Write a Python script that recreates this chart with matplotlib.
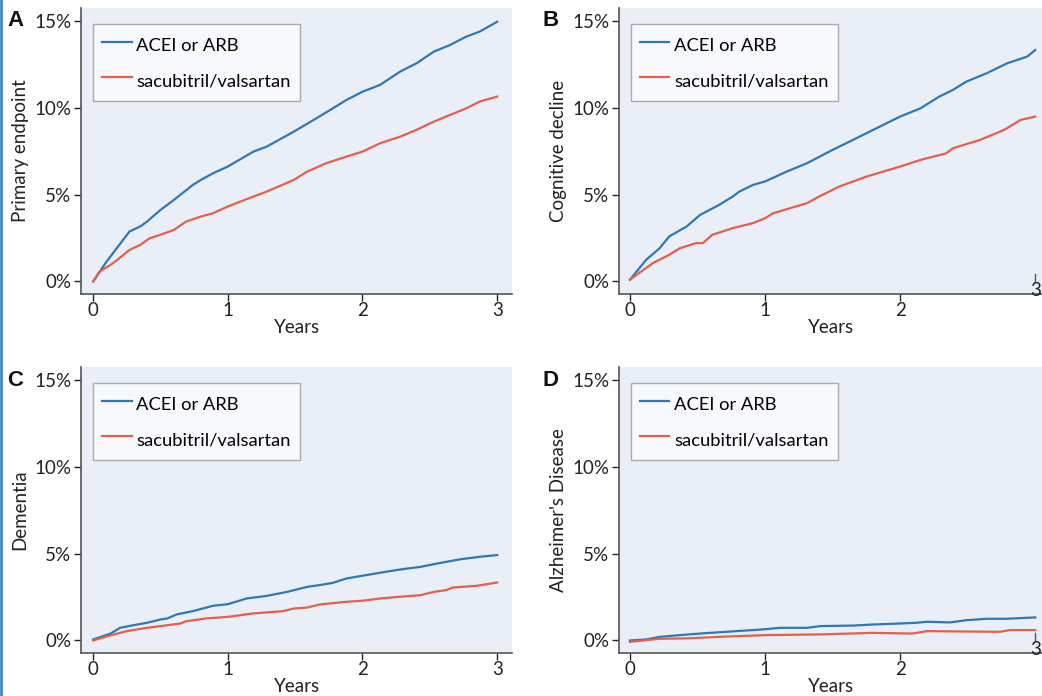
import matplotlib.pyplot as plt
from matplotlib.lines import Line2D

plt.rcParams['font.family'] = ['Lato', 'DejaVu Sans']

# series labels and axis texts
series_names = ["ACEI or ARB", "sacubitril/valsartan"]
panel_letters = ["A", "B", "C", "D"]
y_labels = ["Primary endpoint", "Cognitive decline", "Dementia", "Alzheimer's Disease"]
y_ticks = [0, 5, 10, 15]
y_tick_labels = ["0%", "5%", "10%", "15%"]

# A - primary endpoint
a_blue_x = [0, 0.1, 0.27, 0.35, 0.4, 0.5, 0.6, 0.74, 0.8, 0.89, 1.0, 1.19, 1.29, 1.49, 1.68,
            1.88, 2.0, 2.13, 2.28, 2.4, 2.53, 2.65, 2.77, 2.87, 3.0]
a_blue_y = [0, 1.15, 2.88, 3.17, 3.45, 4.12, 4.7, 5.56, 5.85, 6.23, 6.62, 7.48, 7.77, 8.63, 9.5,
            10.45, 10.93, 11.32, 12.09, 12.56, 13.24, 13.62, 14.1, 14.39, 14.96]
a_red_x = [0, 0.05, 0.13, 0.18, 0.27, 0.35, 0.42, 0.5, 0.6, 0.69, 0.8, 0.89, 1.0, 1.19, 1.29,
           1.49, 1.59, 1.73, 1.88, 2.0, 2.13, 2.28, 2.4, 2.53, 2.65, 2.77, 2.87, 3.0]
a_red_y = [0, 0.58, 0.96, 1.25, 1.82, 2.11, 2.49, 2.69, 2.97, 3.45, 3.74, 3.93, 4.32, 4.89, 5.18,
           5.85, 6.33, 6.81, 7.19, 7.48, 7.96, 8.34, 8.73, 9.21, 9.59, 9.97, 10.36, 10.65]

# B - cognitive decline
b_blue_x = [0, 0.12, 0.22, 0.29, 0.42, 0.52, 0.66, 0.76, 0.81, 0.91, 1.0, 1.16, 1.31, 1.5, 1.65,
            1.8, 2.0, 2.15, 2.29, 2.39, 2.49, 2.64, 2.79, 2.94, 3.0]
b_blue_y = [0.1, 1.25, 1.92, 2.59, 3.17, 3.84, 4.41, 4.89, 5.18, 5.56, 5.76, 6.33, 6.81, 7.58, 8.15,
            8.73, 9.5, 9.97, 10.65, 11.03, 11.51, 11.99, 12.56, 12.95, 13.33]
b_red_x = [0, 0.1, 0.17, 0.29, 0.37, 0.49, 0.54, 0.61, 0.76, 0.91, 1.0, 1.06, 1.31, 1.4, 1.55,
           1.75, 2.0, 2.15, 2.34, 2.39, 2.59, 2.74, 2.79, 2.89, 3.0]
b_red_y = [0.1, 0.67, 1.06, 1.53, 1.92, 2.21, 2.21, 2.69, 3.07, 3.36, 3.64, 3.93, 4.51, 4.89, 5.47,
           6.04, 6.62, 7.0, 7.38, 7.67, 8.15, 8.63, 8.82, 9.3, 9.5]

# C - dementia
c_blue_x = [0, 0.13, 0.2, 0.3, 0.4, 0.5, 0.55, 0.62, 0.74, 0.89, 1.0, 1.14, 1.29, 1.44, 1.59,
            1.68, 1.78, 1.88, 2.0, 2.13, 2.28, 2.43, 2.58, 2.72, 2.87, 3.0]
c_blue_y = [0.06, 0.4, 0.73, 0.88, 1.02, 1.21, 1.27, 1.5, 1.69, 2.0, 2.09, 2.42, 2.57, 2.8, 3.09,
            3.19, 3.32, 3.57, 3.73, 3.9, 4.09, 4.24, 4.47, 4.67, 4.82, 4.92]
c_red_x = [0, 0.13, 0.25, 0.4, 0.55, 0.65, 0.69, 0.84, 1.0, 1.19, 1.41, 1.49, 1.59, 1.68, 1.88,
           2.0, 2.13, 2.28, 2.43, 2.53, 2.62, 2.67, 2.85, 3.0]
c_red_y = [0, 0.3, 0.54, 0.73, 0.88, 0.98, 1.11, 1.27, 1.36, 1.56, 1.69, 1.84, 1.9, 2.07, 2.23,
           2.29, 2.42, 2.52, 2.61, 2.8, 2.9, 3.05, 3.15, 3.34]

# D - Alzheimer's disease
d_blue_x = [0, 0.12, 0.22, 0.37, 0.52, 0.71, 0.91, 1.0, 1.11, 1.31, 1.41, 1.65, 1.8, 2.0, 2.12,
            2.2, 2.37, 2.49, 2.64, 2.79, 3.0]
d_blue_y = [0, 0.06, 0.21, 0.31, 0.4, 0.5, 0.6, 0.65, 0.73, 0.73, 0.83, 0.86, 0.92, 0.98, 1.02,
            1.08, 1.04, 1.17, 1.25, 1.25, 1.33]
d_red_x = [0, 0.22, 0.42, 0.66, 1.0, 1.41, 1.8, 2.09, 2.2, 2.74, 2.81, 3.0]
d_red_y = [-0.08, 0.1, 0.12, 0.21, 0.31, 0.35, 0.44, 0.4, 0.54, 0.5, 0.6, 0.6]

blue = "#2F78B6"
red = "#E5604A"
bg = "#E9EEF7"
spine_col = "#555555"

W, H = 1042, 696
fig = plt.figure(figsize=(W / 100, H / 100), dpi=100)

# left/right/top/bottom of each axes in pixels
boxes = [(81, 512, 8, 294), (619, 1042, 8, 294), (81, 512, 367, 653), (619, 1042, 367, 653)]
xlims = [(-0.09, 3.11), (-0.081, 3.05), (-0.09, 3.11), (-0.081, 3.05)]
data = [(a_blue_x, a_blue_y, a_red_x, a_red_y),
        (b_blue_x, b_blue_y, b_red_x, b_red_y),
        (c_blue_x, c_blue_y, c_red_x, c_red_y),
        (d_blue_x, d_blue_y, d_red_x, d_red_y)]

for i in range(4):
    l, r, t, b = boxes[i]
    ax = fig.add_axes([l / W, (H - b) / H, (r - l) / W, (b - t) / H])
    ax.set_facecolor(bg)
    bx, by, rx, ry = data[i]
    ax.plot(bx, by, color=blue, lw=1.6)
    ax.plot(rx, ry, color=red, lw=1.6)
    ax.set_xlim(*xlims[i])
    ax.set_ylim(-0.72, 15.75)
    ax.set_yticks(y_ticks)
    ax.set_yticklabels(y_tick_labels)
    if i in (1, 3):
        ax.set_xticks([0, 1, 2])
        # the cropped "3" tick of the right-hand panels
        ax.plot([3, 3], [-0.05, 0.45], color=spine_col, lw=1)
        ax.text(3, -0.05, "3", ha="center", va="top", fontsize=13.5, color="#222222")
    else:
        ax.set_xticks([0, 1, 2, 3])
    for s in ("top", "right"):
        ax.spines[s].set_visible(False)
    for s in ("left", "bottom"):
        ax.spines[s].set_color(spine_col)
        ax.spines[s].set_linewidth(1.2)
    ax.tick_params(labelsize=13.5, colors="#222222", length=5, width=1, pad=2)
    ax.tick_params(axis="x", pad=1)
    ax.set_xlabel("Years", fontsize=13.5, color="#222222", labelpad=0)
    ax.set_ylabel(y_labels[i], fontsize=13.5, color="#222222", labelpad=4)
    handles = [Line2D([], [], color=blue, lw=1.6), Line2D([], [], color=red, lw=1.6)]
    leg = ax.legend(handles, series_names, loc="upper left", bbox_to_anchor=(0.028, 0.943),
                    fontsize=13.2, frameon=True, fancybox=False, handlelength=1.6,
                    handleheight=1.55, handletextpad=0.25, labelspacing=0.66, borderpad=0.5,
                    borderaxespad=0)
    leg.get_frame().set_facecolor("#F7F9FC")
    leg.get_frame().set_edgecolor("#AAAAAA")
    leg.get_frame().set_linewidth(1)
    leg.get_frame().set_alpha(1)
    lx = 15 if i in (0, 2) else 551
    ly = 21 if i < 2 else 380
    fig.text(lx / W, 1 - ly / H, panel_letters[i], fontsize=16, fontweight="bold",
             family="Liberation Sans", ha="center", va="center", color="#111111")

# blue frame line at the left edge
fig.add_artist(Line2D([0.001, 0.001], [0, 1], color="#3B86C8", lw=2, transform=fig.transFigure))

fig.savefig("out.png", dpi=100)
